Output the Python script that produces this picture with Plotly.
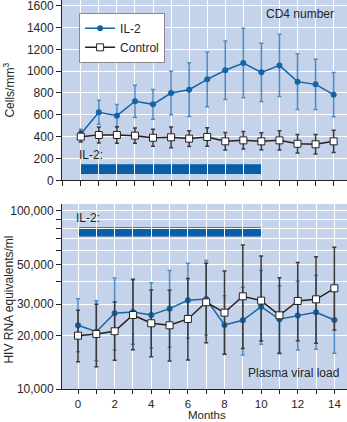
import math
import plotly.graph_objects as go

months = list(range(15))

# CD4 number (cells/mm3)
il2_cd4 = [424, 623, 592, 724, 696, 800, 830, 925, 1008, 1075, 989, 1053, 904, 879, 785]
il2_cd4_err = [43, 110, 103, 148, 137, 200, 246, 250, 268, 319, 266, 285, 256, 230, 202]
ctrl_cd4 = [400, 415, 415, 409, 390, 394, 382, 397, 357, 366, 357, 366, 335, 330, 357]
ctrl_cd4_err = [50, 73, 76, 70, 77, 95, 73, 85, 80, 80, 78, 88, 84, 89, 102]

# Plasma viral load (HIV RNA equivalents/ml)
il2_vl = [22790, 20990, 26600, 27070, 26040, 28270, 31480, 32040, 22890, 24310, 29010, 24630, 25830, 26960, 24420]
il2_vl_hi = [32170, 31330, 42030, 41000, 39540, 46230, 50800, 52600, 33440, 37240, 46230, 38000, 40460, 43500, 37000]
il2_vl_lo = [16210, 14430, 16560, 17820, 16910, 17140, 19280, 20100, 15660, 15520, 17820, 16000, 16560, 16700, 15900]
ctrl_vl = [19930, 20370, 21090, 26040, 23390, 22790, 24740, 30690, 26840, 33160, 31360, 25930, 31220, 31890, 36780]
ctrl_vl_hi = [27670, 29900, 30820, 41300, 35960, 35810, 41700, 50800, 46000, 64400, 55880, 42170, 51300, 55370, 62520]
ctrl_vl_lo = [14240, 13350, 14490, 16630, 15190, 14360, 14550, 18200, 15660, 16900, 18610, 15850, 18690, 18060, 21460]

# IL-2 treatment period (months) and bar band levels
il2_period = [0, 10]
cd4_band = [58, 147]
vl_band = [71760, 80950]

cd4_ticks = [0, 200, 400, 600, 800, 1000, 1200, 1400, 1600]
vl_ticks = [10000, 20000, 30000, 50000, 100000]
vl_ticktext = ["10,000", "20,000", "30,000", "50,000", "100,000"]
vl_minor = [40000, 60000, 70000, 80000, 90000]
month_ticks = [0, 2, 4, 6, 8, 10, 12, 14]

BG = "#c4d3ea"
BLUE = "#1465a8"
BLUE_ERR = "#4a8cc6"
DARK = "#222222"
ERR_DARK = "#3a3a3a"
FONT = "Liberation Sans, Arial, sans-serif"
TXT = "#262626"

fig = go.Figure()

# Top panel
fig.add_trace(go.Scatter(
    x=months, y=il2_cd4, mode="lines+markers", name="IL-2",
    line=dict(color=BLUE, width=1.5),
    marker=dict(symbol="circle", size=6, color=BLUE),
    error_y=dict(type="data", array=il2_cd4_err, color=BLUE_ERR, thickness=1.5, width=2),
    xaxis="x", yaxis="y", legendgroup="il2"))
fig.add_trace(go.Scatter(
    x=months, y=ctrl_cd4, mode="lines+markers", name="Control",
    line=dict(color=DARK, width=1.5),
    marker=dict(symbol="square", size=7, color="white", line=dict(color=DARK, width=1)),
    error_y=dict(type="data", array=ctrl_cd4_err, color=ERR_DARK, thickness=1.5, width=2),
    xaxis="x", yaxis="y", legendgroup="ctrl"))

# Bottom panel
fig.add_trace(go.Scatter(
    x=months, y=il2_vl, mode="lines+markers", name="IL-2", showlegend=False,
    line=dict(color=BLUE, width=1.5),
    marker=dict(symbol="circle", size=6, color=BLUE),
    error_y=dict(type="data", symmetric=False,
                 array=[h - v for h, v in zip(il2_vl_hi, il2_vl)],
                 arrayminus=[v - l for v, l in zip(il2_vl, il2_vl_lo)],
                 color=BLUE_ERR, thickness=1.5, width=2),
    xaxis="x2", yaxis="y2", legendgroup="il2"))
fig.add_trace(go.Scatter(
    x=months, y=ctrl_vl, mode="lines+markers", name="Control", showlegend=False,
    line=dict(color=DARK, width=1.5),
    marker=dict(symbol="square", size=7, color="white", line=dict(color=DARK, width=1)),
    error_y=dict(type="data", symmetric=False,
                 array=[h - v for h, v in zip(ctrl_vl_hi, ctrl_vl)],
                 arrayminus=[v - l for v, l in zip(ctrl_vl, ctrl_vl_lo)],
                 color=ERR_DARK, thickness=1.5, width=2),
    xaxis="x2", yaxis="y2", legendgroup="ctrl"))

# IL-2 treatment bars
fig.add_shape(type="rect", xref="x", yref="y", x0=il2_period[0], x1=il2_period[1],
              y0=cd4_band[0], y1=cd4_band[1], fillcolor="#075ea6", line=dict(width=0), layer="below")
fig.add_shape(type="rect", xref="x2", yref="y2", x0=il2_period[0], x1=il2_period[1],
              y0=vl_band[0], y1=vl_band[1], fillcolor="#075ea6", line=dict(width=0), layer="below")

axis_common = dict(showgrid=True, gridcolor="white", gridwidth=1, showline=True,
                   linecolor=DARK, linewidth=1, ticks="outside", ticklen=5,
                   tickcolor=DARK, tickfont=dict(family=FONT, size=12, color=TXT),
                   zeroline=False, ticklabeloverflow="allow")

fig.update_layout(
    width=347, height=422,
    margin=dict(l=62, r=0, t=0, b=33),
    paper_bgcolor="white", plot_bgcolor=BG,
    font=dict(family=FONT, size=12, color=TXT),
    showlegend=True,
    legend=dict(x=0.06, y=0.967, xanchor="left", yanchor="top",
                bgcolor="white", bordercolor="#8a8a8a", borderwidth=1,
                font=dict(family=FONT, size=12, color=TXT),
                tracegroupgap=0, itemwidth=30),
    xaxis=dict(axis_common, domain=[0, 1], range=[-1.04, 14.74], anchor="y",
               tickmode="linear", tick0=0, dtick=1, showticklabels=False),
    yaxis=dict(axis_common, domain=[0.5365, 1], range=[0, 1652], anchor="x",
               tickmode="array", tickvals=cd4_ticks),
    xaxis2=dict(axis_common, domain=[0, 1], range=[-0.875, 14.69], anchor="y2",
                tickmode="array", tickvals=month_ticks, ticklen=4,
                tickfont=dict(family=FONT, size=11.5, color=TXT),
                minor=dict(tickmode="linear", tick0=0, dtick=1, showgrid=True,
                           gridcolor="white", ticks="outside", ticklen=4, tickcolor=DARK)),
    yaxis2=dict(axis_common, domain=[0, 0.4756], type="log", range=[4, 5.039], anchor="x2",
                tickmode="array", tickvals=vl_ticks, ticktext=vl_ticktext,
                minor=dict(tickmode="array", tickvals=vl_minor, showgrid=True,
                           gridcolor="white", ticks="outside", ticklen=5, tickcolor=DARK)),
)

ann_font = dict(family=FONT, size=12, color=TXT)
fig.add_annotation(text="CD4 number", xref="paper", yref="paper", x=0.9614, y=0.964,
                   xanchor="right", yanchor="middle", showarrow=False, font=ann_font)
fig.add_annotation(text="Plasma viral load", xref="paper", yref="paper", x=0.979, y=0.0411,
                   xanchor="right", yanchor="middle", showarrow=False, font=ann_font)
fig.add_annotation(text="Months", xref="paper", yref="paper", x=0.5088, y=-0.0848,
                   xanchor="center", yanchor="bottom", showarrow=False,
                   font=dict(family=FONT, size=11.5, color=TXT), borderpad=0)
fig.add_annotation(text="Cells/mm<sup>3</sup>", xref="paper", yref="paper", x=-0.1875, y=0.7686,
                   xanchor="center", yanchor="middle", textangle=-90, showarrow=False, font=ann_font)
fig.add_annotation(text="HIV RNA equivalents/ml", xref="paper", yref="paper", x=-0.1875, y=0.2288,
                   xanchor="center", yanchor="middle", textangle=-90, showarrow=False, font=ann_font)
fig.add_annotation(text="IL-2:", xref="x", yref="y", x=il2_period[0], y=cd4_band[1],
                   xanchor="left", yanchor="bottom", xshift=-4, yshift=0, showarrow=False, font=ann_font)
fig.add_annotation(text="IL-2:", xref="x2", yref="y2", x=il2_period[0], y=math.log10(vl_band[1]),
                   xanchor="left", yanchor="bottom", xshift=-4, yshift=0, showarrow=False, font=ann_font)

fig.write_html("out.html")
